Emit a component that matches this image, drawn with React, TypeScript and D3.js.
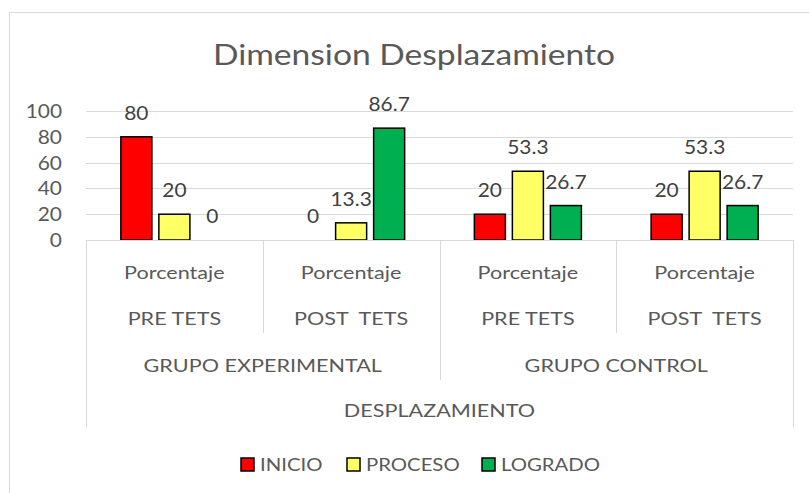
import React from "react";
import * as d3 from "d3";

const categories = ["c1", "c2", "c3", "c4"];
const level1 = ["Porcentaje", "Porcentaje", "Porcentaje", "Porcentaje"];
const level2 = ["PRE TETS", "POST  TETS", "PRE TETS", "POST  TETS"];
const groups = ["GRUPO EXPERIMENTAL", "GRUPO CONTROL"];
const topLabel = "DESPLAZAMIENTO";
const seriesNames = ["INICIO", "PROCESO", "LOGRADO"];
const seriesColors = ["#FF0000", "#FFFF66", "#00B050"];
const inicio = [80, 0, 20, 20];
const proceso = [20, 13.3, 53.3, 53.3];
const logrado = [0, 86.7, 26.7, 26.7];
const yTicks = [0, 20, 40, 60, 80, 100];
const title = "Dimension Desplazamiento";

const W = 809;
const H = 493;
const FONT = "Lato, 'Open Sans', sans-serif";
const TXT = "#595959";
const GRID = "#d9d9d9";

function T(props: {
  x: number;
  y: number;
  sx: number;
  size: number;
  anchor?: string;
  fill?: string;
  children: React.ReactNode;
}) {
  return (
    <text
      transform={`translate(${props.x},${props.y}) scale(${props.sx},1)`}
      textAnchor={props.anchor || "middle"}
      fontSize={props.size}
      fill={props.fill || TXT}
      style={{ whiteSpace: "pre" }}
    >
      {props.children}
    </text>
  );
}

export default function App() {
  const values = [inicio, proceso, logrado];
  const x0 = d3.scaleBand<string>().domain(categories).range([86, 793]).padding(0);
  const x1 = d3
    .scaleBand<string>()
    .domain(seriesNames)
    .range([0, x0.bandwidth()])
    .paddingInner(0.184)
    .paddingOuter(0.917);
  const y = d3.scaleLinear().domain([0, 100]).range([240, 111]);
  const cw = x0.bandwidth();
  const left = x0.range()[0];
  const right = x0.range()[1];

  const legendX = [241, 347, 482];
  const SXT = 1.2;
  const SXN = 1.1;

  return (
    <svg
      width={W}
      height={H}
      style={{ position: "absolute", left: 0, top: 0, background: "#fff" }}
      fontFamily={FONT}
    >
      <rect x={0} y={0} width={W} height={H} fill="#fff" />
      <rect x={9.5} y={12.5} width={W + 20} height={H + 20} fill="none" stroke={GRID} strokeWidth={1} />
      <T x={414} y={65} sx={SXT} size={28}>
        {title}
      </T>
      {/* gridlines */}
      {yTicks.map((t) => (
        <g key={t}>
          {t > 0 && (
            <line x1={left} x2={right} y1={Math.round(y(t)) + 0.5} y2={Math.round(y(t)) + 0.5} stroke={GRID} strokeWidth={1} />
          )}
          <T x={62} y={y(t) + 7} sx={SXN} size={19} anchor="end">
            {t}
          </T>
        </g>
      ))}
      {/* bars */}
      {categories.map((c, ci) => (
        <g key={c} transform={`translate(${x0(c)},0)`}>
          {seriesNames.map((s, si) => {
            const v = values[si][ci];
            const bx = x1(s)!;
            return (
              <g key={s}>
                {v > 0 && (
                  <rect
                    x={bx}
                    y={y(v)}
                    width={x1.bandwidth()}
                    height={y(0) - y(v)}
                    fill={seriesColors[si]}
                    stroke="#000"
                    strokeWidth={1.5}
                  />
                )}
                <T x={bx + x1.bandwidth() / 2} y={y(v) - 17} sx={SXN} size={19} fill="#404040">
                  {v}
                </T>
              </g>
            );
          })}
        </g>
      ))}
      {/* category axis */}
      <line x1={left} x2={right} y1={240.5} y2={240.5} stroke={GRID} strokeWidth={1} />
      {categories.map((c, ci) => (
        <g key={"lab" + c}>
          <T x={x0(c)! + cw / 2} y={279} sx={SXT} size={18}>
            {level1[ci]}
          </T>
          <T x={x0(c)! + cw / 2} y={325} sx={SXT} size={18}>
            {level2[ci]}
          </T>
        </g>
      ))}
      {groups.map((g, gi) => (
        <T key={g} x={x0(categories[gi * 2])! + cw} y={372} sx={SXT} size={18}>
          {g}
        </T>
      ))}
      <T x={(left + right) / 2} y={417} sx={SXT} size={18}>
        {topLabel}
      </T>
      {/* dividers */}
      {[1, 3].map((i) => (
        <line key={"d" + i} x1={Math.round(x0(categories[i])!) + 0.5} x2={Math.round(x0(categories[i])!) + 0.5} y1={240} y2={333} stroke={GRID} strokeWidth={1} />
      ))}
      <line x1={Math.round(x0(categories[2])!) + 0.5} x2={Math.round(x0(categories[2])!) + 0.5} y1={240} y2={380} stroke={GRID} strokeWidth={1} />
      <line x1={left + 0.5} x2={left + 0.5} y1={240} y2={427} stroke={GRID} strokeWidth={1} />
      <line x1={right + 0.5} x2={right + 0.5} y1={240} y2={427} stroke={GRID} strokeWidth={1} />
      {/* legend */}
      {seriesNames.map((s, si) => (
        <g key={"lg" + s}>
          <rect x={legendX[si]} y={458} width={13} height={13} fill={seriesColors[si]} stroke="#000" strokeWidth={1.5} />
          <T x={legendX[si] + 19} y={471} sx={1.13} size={18} anchor="start">
            {s}
          </T>
        </g>
      ))}
    </svg>
  );
}
